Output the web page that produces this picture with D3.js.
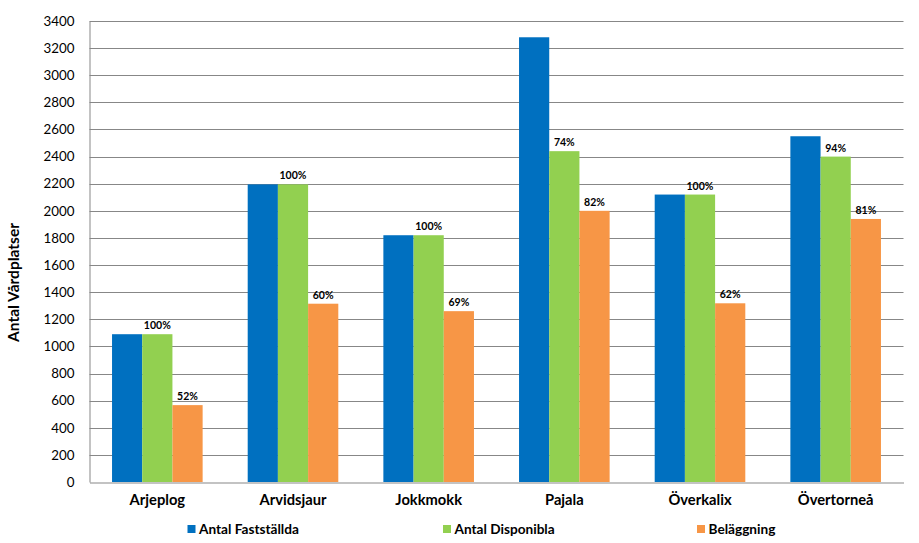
<!DOCTYPE html>
<html><head><meta charset="utf-8">
<script src="https://cdn.jsdelivr.net/npm/d3@7"></script>
<style>
html,body{margin:0;padding:0;background:#fff;}
svg{display:block;font-family:Lato, "Open Sans", sans-serif;}
</style></head>
<body>
<svg id="chart" width="919" height="543"></svg>
<script>
const categories = ["Arjeplog","Arvidsjaur","Jokkmokk","Pajala","Överkalix","Övertorneå"];
const seriesNames = ["Antal Fastställda","Antal Disponibla","Beläggning"];
const fastställda = [1090, 2195, 1820, 3280, 2120, 2550];
const disponibla = [1090, 2195, 1820, 2440, 2120, 2400];
const beläggning = [567, 1315, 1260, 2000, 1318, 1940];
const disponiblaLabels = ["100%","100%","100%","74%","100%","94%"];
const beläggningLabels = ["52%","60%","69%","82%","62%","81%"];
const yTicks = [0,200,400,600,800,1000,1200,1400,1600,1800,2000,2200,2400,2600,2800,3000,3200,3400];
const colors = ["#0070c0","#92d050","#f79646"];

const svg = d3.select("#chart");
const mLeft = 89.5, mRight = 903.5, mTop = 21, mBottom = 482;

// font size so that a sample string has the wanted width
function fitSize(sample, width, weight) {
  const t = svg.append("text").attr("font-size", 100).attr("font-weight", weight).text(sample);
  const w = t.node().getComputedTextLength();
  t.remove();
  return Math.min(18, Math.max(8, 100 * width / w));
}
const tickSize = fitSize("2000", 31, "normal");
const catSize = fitSize("Arvidsjaur", 67, "bold");
const pctSize = fitSize("100%", 27, "bold");
const legSize = fitSize("Antal Fastställda", 100, "bold");
const titleSize = fitSize("Antal Vårdplatser", 119, "bold");

const x0 = d3.scaleBand().domain(categories).range([mLeft, mRight]).paddingInner(0).paddingOuter(0);
const inner = 90.6/135.67;
const x1 = d3.scaleBand().domain(seriesNames).range([0, x0.bandwidth()*inner]);
const groupOffset = (x0.bandwidth() - x0.bandwidth()*inner)/2;
const y = d3.scaleLinear().domain([0, 3400]).range([mBottom, mTop]);

// gridlines
svg.append("g").selectAll("line").data(yTicks.filter(d=>d>0)).join("line")
  .attr("x1", mLeft).attr("x2", mRight)
  .attr("y1", d=>Math.round(y(d))+0.5).attr("y2", d=>Math.round(y(d))+0.5)
  .attr("stroke", "#878787").attr("stroke-width", 1);

// y axis
const yAxis = d3.axisLeft(y).tickValues(yTicks).tickFormat(d3.format("d")).tickSize(0).tickPadding(15);
const ga = svg.append("g").attr("transform", `translate(${mLeft},0)`).call(yAxis);
ga.select(".domain").attr("stroke", "#878787");
ga.selectAll("text").attr("font-size", tickSize).attr("fill", "#000").attr("font-family", "Lato");

// x axis
const xAxis = d3.axisBottom(x0).tickSize(0).tickPadding(12);
const gx = svg.append("g").attr("transform", `translate(0,${Math.round(mBottom)+0.5})`).call(xAxis);
gx.select(".domain").attr("stroke", "#878787");
gx.selectAll("text").attr("font-size", catSize).attr("font-weight", "bold").attr("fill", "#000").attr("font-family", "Lato");

const data = [fastställda, disponibla, beläggning];
const g = svg.append("g");
seriesNames.forEach((s, si) => {
  g.append("g").selectAll("rect").data(categories).join("rect")
    .attr("x", c => x0(c) + groupOffset + x1(s))
    .attr("width", x1.bandwidth())
    .attr("y", (c,i) => y(data[si][i]))
    .attr("height", (c,i) => mBottom - y(data[si][i]))
    .attr("fill", colors[si]);
});

// data labels
const labelSets = [[1, disponiblaLabels],[2, beläggningLabels]];
labelSets.forEach(([si, labels]) => {
  svg.append("g").selectAll("text").data(categories).join("text")
    .attr("x", c => x0(c) + groupOffset + x1(seriesNames[si]) + x1.bandwidth()/2)
    .attr("y", (c,i) => y(data[si][i]) - 5)
    .attr("text-anchor", "middle")
    .attr("font-size", pctSize).attr("font-weight", "bold").attr("fill", "#000")
    .text((c,i) => labels[i]);
});

// y title
svg.append("text")
  .attr("transform", "translate(19,282.5) rotate(-90)")
  .attr("text-anchor", "middle")
  .attr("font-size", titleSize).attr("font-weight", "bold").attr("fill", "#000")
  .text("Antal Vårdplatser");

// legend
const legendX = [187.5, 443, 697];
const lg = svg.append("g").selectAll("g").data(seriesNames).join("g")
  .attr("transform", (d,i) => `translate(${legendX[i]},529)`);
lg.append("rect").attr("x", 0).attr("y", -4).attr("width", 8).attr("height", 8).attr("fill", (d,i)=>colors[i]);
lg.append("text").attr("x", 11.5).attr("y", 0).attr("dy", "0.35em")
  .attr("font-size", legSize).attr("font-weight", "bold").attr("fill", "#000").text(d=>d);
</script>
</body></html>
